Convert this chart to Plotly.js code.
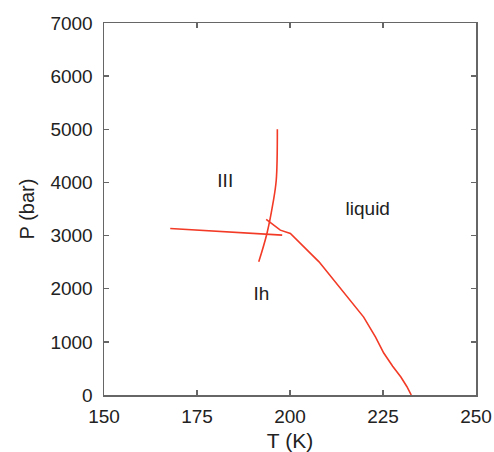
<!DOCTYPE html>
<html>
<head>
<meta charset="utf-8">
<script src="https://cdn.plot.ly/plotly-3.0.1.min.js"></script>
<style>html,body{margin:0;padding:0;background:#fff}#chart{width:494px;height:452px}</style>
</head>
<body>
<div id="chart"></div>
<script>
// III / Ih boundary
const iiiIhT = [167.8, 197.9];
const iiiIhP = [3134, 3008];
// III / liquid boundary (extended below triple point)
const iiiLiqT = [196.6, 196.3, 195.4, 193.8, 191.6];
const iiiLiqP = [5000, 4040, 3600, 3040, 2506];
// Ih / liquid melting line
const ihLiqT = [193.6, 197.4, 200.1, 207.8, 219.8, 223.0, 225.2, 227.6, 229.8, 231.4, 232.6];
const ihLiqP = [3303, 3102, 3040, 2506, 1466, 1090, 790, 540, 338, 160, 0];
// region labels
const labelText = ["III", "liquid", "Ih"];
const labelT = [182.6, 220.9, 192.3];
const labelP = [4004, 3478, 1880];

const lineStyle = {color: '#f23a26', width: 1.6};
const data = [
  {x: iiiIhT, y: iiiIhP, mode: 'lines', line: lineStyle, hoverinfo: 'none'},
  {x: iiiLiqT, y: iiiLiqP, mode: 'lines', line: Object.assign({shape: 'spline'}, lineStyle), hoverinfo: 'none'},
  {x: ihLiqT, y: ihLiqP, mode: 'lines', line: lineStyle, hoverinfo: 'none'},
  {x: labelT, y: labelP, mode: 'text', text: labelText, textfont: {family: 'Liberation Sans, Arial, sans-serif', size: 19, color: '#222'}, hoverinfo: 'none'}
];
const axisCommon = {
  showgrid: false, zeroline: false, showline: true, mirror: 'ticks',
  linecolor: '#666', linewidth: 1.5, ticks: 'inside', ticklen: 5, tickwidth: 1.5, tickcolor: '#666',
  tickfont: {family: 'Liberation Sans, Arial, sans-serif', size: 19, color: '#222'}
};
const layout = {
  width: 494, height: 452,
  margin: {l: 104, r: 18, t: 23, b: 57},
  paper_bgcolor: '#fff', plot_bgcolor: '#fff',
  showlegend: false,
  xaxis: Object.assign({}, axisCommon, {
    range: [150, 250], tickvals: [150, 175, 200, 225, 250], ticklabelstandoff: 4,
    title: {text: 'T (K)', font: {family: 'Liberation Sans, Arial, sans-serif', size: 21, color: '#222'}, standoff: 8}
  }),
  yaxis: Object.assign({}, axisCommon, {
    range: [0, 7000], tickvals: [0, 1000, 2000, 3000, 4000, 5000, 6000, 7000], ticklabelstandoff: 6,
    title: {text: 'P (bar)', font: {family: 'Liberation Sans, Arial, sans-serif', size: 20, color: '#222'}, standoff: 10}
  })
};
Plotly.newPlot('chart', data, layout, {displayModeBar: false, staticPlot: true});
</script>
</body>
</html>
